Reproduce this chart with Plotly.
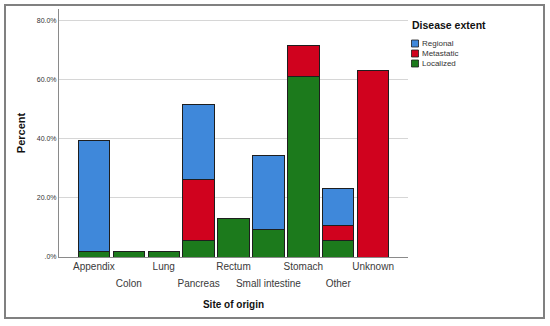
import plotly.graph_objects as go

sites = ["Appendix", "Colon", "Lung", "Pancreas", "Rectum",
         "Small intestine", "Stomach", "Other", "Unknown"]
localized = [1.9, 1.9, 1.9, 5.5, 13.1, 9.3, 61.0, 5.5, None]
metastatic = [None, None, None, 20.9, None, None, 10.6, 5.3, 63.2]
regional = [37.4, None, None, 25.1, None, 25.0, None, 12.5, None]

y_ticks = [0, 20, 40, 60, 80]
y_tick_text = [".0%", "20.0%", "40.0%", "60.0%", "80.0%"]

series_names = ["Localized", "Metastatic", "Regional"]
series_values = [localized, metastatic, regional]
series_colors = ["#1c7a1c", "#d0021e", "#3f88da"]

FONT = "Liberation Sans, Arial, sans-serif"
OUTLINE = "#1e1e1e"

fig = go.Figure()
for name, vals, col in zip(series_names, series_values, series_colors):
    fig.add_trace(go.Bar(
        x=sites, y=vals, name=name, showlegend=False,
        marker=dict(color=col, line=dict(color=OUTLINE, width=1)),
    ))

W, H = 550, 326
L, R, T, B = 59, 142, 9, 69
pw, ph = W - L - R, H - T - B

def px_x(p):
    return (p - L) / pw

def px_y(p):
    return (H - B - p) / ph

fig.update_layout(
    width=W, height=H,
    margin=dict(l=L, r=R, t=T, b=B),
    paper_bgcolor="white", plot_bgcolor="white",
    barmode="stack", bargap=0.1,
    font=dict(family=FONT, color="#333333"),
    showlegend=False,
    xaxis=dict(
        type="category", categoryarray=sites, categoryorder="array",
        range=[-1, 9],
        tickmode="array", tickvals=sites[0::2],
        tickfont=dict(size=10, color="#3a3a3a"),
        showline=True, linecolor="#8a8a8a", linewidth=1,
        showgrid=False, ticks="",
        title=dict(text="<b>Site of origin</b>", font=dict(size=10, color="#111111"),
                   standoff=29),
    ),
    xaxis2=dict(
        overlaying="x", anchor="y", side="bottom",
        range=[-1, 9], tickmode="array",
        tickvals=[1, 3, 5, 7], ticktext=sites[1::2],
        tickfont=dict(size=10, color="#3a3a3a"),
        ticklabelstandoff=19,
        showline=False, showgrid=False, zeroline=False, ticks="",
    ),
    yaxis=dict(
        range=[0, 84],
        tickmode="array", tickvals=y_ticks, ticktext=y_tick_text,
        tickfont=dict(size=7, color="#333333"),
        showline=True, linecolor="#8a8a8a", linewidth=1,
        showgrid=True, gridcolor="#d6d6d6", gridwidth=1,
        zeroline=False, ticks="",
        title=dict(text="<b>Percent</b>", font=dict(size=11, color="#111111"),
                   standoff=8),
    ),
)

# invisible trace to activate the second (label) x axis
fig.add_trace(go.Scatter(x=[None], y=[None], xaxis="x2", showlegend=False,
                         hoverinfo="skip"))

# legend (Regional, Metastatic, Localized from top)
fig.add_annotation(text="<b>Disease extent</b>", xref="paper", yref="paper",
                   x=px_x(410), y=px_y(25), xanchor="left", yanchor="middle",
                   showarrow=False, font=dict(size=10.5, color="#111111"))
for i, (name, col) in enumerate(zip(series_names[::-1], series_colors[::-1])):
    cy = 43.5 + 10 * i
    fig.add_shape(type="rect", xref="paper", yref="paper",
                  x0=px_x(411.5), x1=px_x(418.5), y0=px_y(cy + 3.5), y1=px_y(cy - 3.5),
                  fillcolor=col, line=dict(color=OUTLINE, width=0.8))
    fig.add_annotation(text=name, xref="paper", yref="paper",
                       x=px_x(420), y=px_y(cy), xanchor="left", yanchor="middle",
                       showarrow=False, font=dict(size=8, color="#333333"))

# outer frame
fig.add_shape(type="rect", xref="paper", yref="paper",
              x0=px_x(5), x1=px_x(544), y0=px_y(318), y1=px_y(5),
              line=dict(color="#808080", width=2), fillcolor="rgba(0,0,0,0)",
              layer="below")

fig.write_html("out.html", config={"displayModeBar": False},
               post_script="document.body.style.margin='0';")
